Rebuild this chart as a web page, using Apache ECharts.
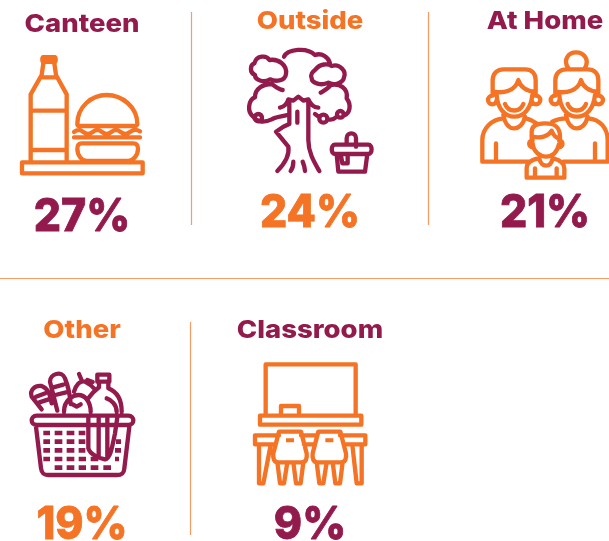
<!DOCTYPE html>
<html>
<head>
<meta charset="utf-8">
<style>
  html, body { margin: 0; padding: 0; background: #fff; }
  #main { width: 609px; height: 541px; }
</style>
<script src="https://cdn.jsdelivr.net/npm/echarts@6/dist/echarts.min.js"></script>
</head>
<body>
<div id="main"></div>
<script>
  const categories = ['Canteen', 'Outside', 'At Home', 'Other', 'Classroom']
  const shares = [27, 24, 21, 19, 9]

  const MAROON = '#931a4c'
  const ORANGE = '#f47325'
  const RULE = '#f79a63'

  // 每个格子的位置和配色
  const cells = [
    { cx: 82, titleY: 24, valueY: 217, textColor: MAROON, iconColor: ORANGE, icon: 'food', ox: 0, oy: 0 },
    { cx: 310, titleY: 21, valueY: 213, textColor: ORANGE, iconColor: MAROON, icon: 'tree', ox: 200, oy: 0 },
    { cx: 545, titleY: 21, valueY: 213, textColor: MAROON, iconColor: ORANGE, icon: 'family', ox: 420, oy: 0 },
    { cx: 82, titleY: 330, valueY: 525, textColor: ORANGE, iconColor: MAROON, icon: 'basket', ox: 0, oy: 300 },
    { cx: 310, titleY: 330, valueY: 525, textColor: MAROON, iconColor: ORANGE, icon: 'school', ox: 200, oy: 300 }
  ]

  // 图标线条，坐标是放大 3 倍后的
  const iconLines = {
    food: 'M66 487 H428 V520 H66 Z M92 483 V283 L125 225 L130 190 M200 483 V283 L168 225 L163 190 M125 232 H168 M92 332 H200 M92 450 H200 ' +
      'M232 372 C232 320 275 285 320 285 C365 285 412 320 412 372 C412 376 408 378 405 378 H238 C235 378 232 376 232 372 Z ' +
      'M222 396 C232 388 240 388 250 396 C260 404 268 404 278 396 C288 388 296 388 306 396 C316 404 324 404 334 396 C344 388 352 388 362 396 C372 404 380 404 390 396 C400 388 410 388 420 394 M222 412 H420 ' +
      'M245 430 H400 C410 430 414 436 414 446 C414 465 400 483 385 483 H260 C245 483 232 465 232 446 C232 436 236 430 245 430 Z',
    tree: 'M163 190 C170 165 200 165 208 180 C235 175 262 195 258 222 C255 245 225 245 210 238 C190 250 165 240 165 225 C148 218 150 195 163 190 Z ' +
      'M345 210 C360 190 385 190 395 198 C420 190 440 215 432 232 C430 250 400 258 385 248 C365 258 335 250 335 235 C330 225 338 215 345 210 Z ' +
      'M252 170 C262 148 320 140 345 165 C365 158 385 170 390 190 ' +
      'M248 270 C235 268 225 258 215 252 C190 252 165 265 165 292 C145 300 140 335 160 350 C170 368 195 368 215 358 C228 350 245 350 262 345 ' +
      'M362 278 C375 270 385 265 392 255 C420 250 445 265 440 295 C455 315 450 340 432 346 M408 352 C400 360 392 360 384 358 M356 350 L345 342 ' +
      'M186 353 A11 11 0 1 1 164 353 A11 11 0 1 1 186 353 Z M382 356 A12 12 0 1 1 358 356 A12 12 0 1 1 382 356 Z M431 343 A10 10 0 1 1 411 343 A10 10 0 1 1 431 343 Z ' +
      'M240 323 C255 320 262 310 265 298 L280 302 L295 290 L310 302 L325 298 C330 310 340 322 355 323 ' +
      'M268 300 V372 L250 380 L228 395 L265 440 C270 470 250 495 232 513 M325 300 V420 C325 460 345 490 358 513 M292 335 V368 ' +
      'M280 485 C280 495 278 505 272 513 M308 485 C312 495 315 505 315 513 ' +
      'M440 430 V415 C440 395 468 395 468 415 V440 M405 434 H505 C518 434 518 462 505 462 H405 C392 462 392 434 405 434 Z ' +
      'M410 462 L415 515 H495 L502 462 M422 462 L427 490 H443 V462',
    family: 'M218 285 V240 C218 218 235 208 250 208 H315 C335 208 347 220 347 240 V285 M222 275 C250 280 285 275 295 240 C300 260 320 275 345 275 ' +
      'M230 300 A13 13 0 1 1 218 287 M335 300 A13 13 0 1 0 347 287 M230 285 C232 325 255 350 283 350 C312 350 333 325 337 285 M255 312 C265 338 300 338 310 312 ' +
      'M250 345 C255 375 270 385 283 385 C295 385 310 375 315 350 M187 485 V420 C187 385 215 358 250 355 M318 355 C330 358 340 362 350 370 M187 485 H330 M228 430 V485 ' +
      'M406 285 V240 C406 218 423 208 438 208 H503 C523 208 535 220 535 240 V285 M410 275 C438 280 473 275 483 240 C488 260 508 275 533 275 ' +
      'M418 300 A13 13 0 1 1 406 287 M523 300 A13 13 0 1 0 535 287 M418 285 C420 325 443 350 471 350 C500 350 521 325 525 285 M443 312 C453 338 488 338 498 312 ' +
      'M438 345 C443 375 458 385 471 385 C483 385 498 375 503 350 M397 365 C410 358 420 355 438 355 M505 355 C540 358 563 385 563 420 V485 H430 M525 430 V485 ' +
      'M445 205 C428 180 445 157 468 157 C492 157 510 180 494 205 ' +
      'M335 415 V395 C335 378 350 370 375 370 C405 370 420 380 420 410 V425 M338 410 C360 415 385 410 395 392 C400 405 410 415 420 415 ' +
      'M338 442 A10 10 0 1 1 338 421 M417 442 A10 10 0 1 0 417 421 M338 430 C340 455 360 470 378 470 C398 470 412 455 418 430 ' +
      'M320 533 V505 C320 485 340 478 355 475 M400 475 C420 480 433 488 433 505 V533 H320 M358 475 C360 490 370 497 378 497 C388 497 395 490 398 475 M345 505 V533 M410 505 V533',
    basket: 'M110 347 H385 C405 347 405 375 385 375 H110 C90 375 90 347 110 347 Z M108 380 L123 505 C125 520 130 525 145 525 H350 C365 525 372 520 373 505 L388 380 ' +
      'M265 352 V445 C270 465 300 475 315 478 C330 475 335 450 345 400 L352 352 M296 355 V470 M322 355 V472 ' +
      'M125 328 L95 290 C88 270 105 255 125 258 C145 265 150 285 155 310 M108 290 L136 280 M118 307 L146 298 ' +
      'M172 332 L150 245 C150 222 185 210 195 235 C205 260 210 285 212 312 M160 262 L190 254 M166 285 L198 277 ' +
      'M192 335 C192 300 220 285 235 285 C255 285 272 305 272 335 M218 313 L230 320 L242 313 ' +
      'M222 275 C228 255 240 240 255 245 C265 250 278 260 285 268 M237 222 L246 243 M262 240 L278 246 ' +
      'M292 224 H328 V245 H292 Z M297 245 V262 C280 275 272 285 265 295 M325 245 V265 C350 275 365 300 365 335 M320 295 C335 300 350 315 350 335',
    school: 'M197 345 V193 H467 V345 M243 342 V318 H297 V342 M180 347 H484 V374 H180 Z M165 406 H237 M303 406 H352 M420 406 H496 V433 H433 M165 406 V433 H225 M312 433 H345 ' +
      'M177 435 V550 H190 L212 435 M485 435 V550 H470 L457 435 ' +
      'M237 395 H303 L320 460 C322 475 318 487 305 487 H235 C222 487 218 475 220 460 Z M232 487 L240 550 H252 L262 487 M280 487 L288 550 H302 L310 487 ' +
      'M355 395 H421 L438 460 C440 475 436 487 423 487 H353 C340 487 336 475 338 460 Z M350 487 L358 550 H370 L380 487 M398 487 L406 550 H420 L428 487'
  }

  // 实心部分
  const iconFills = {
    food: 'M128 165 H166 C176 165 176 192 166 192 H128 C118 192 118 165 128 165 Z',
    tree: '',
    family: '',
    basket: 'M130 392 h20 v14 h-20 Z M164 392 h23 v14 h-23 Z M200 392 h23 v14 h-23 Z M236 392 h20 v14 h-20 Z ' +
      'M130 418 h20 v14 h-20 Z M164 418 h23 v14 h-23 Z M200 418 h23 v14 h-23 Z M236 418 h20 v14 h-20 Z M348 418 h15 v14 h-15 Z ' +
      'M130 444 h20 v14 h-20 Z M164 444 h23 v14 h-23 Z M200 444 h23 v14 h-23 Z M236 444 h20 v14 h-20 Z M345 444 h18 v14 h-18 Z ' +
      'M130 470 h20 v14 h-20 Z M164 470 h23 v14 h-23 Z M200 470 h23 v14 h-23 Z M236 470 h22 v14 h-22 Z M272 470 h23 v14 h-23 Z M345 470 h12 v14 h-12 Z ' +
      'M164 496 h23 v14 h-23 Z M200 496 h23 v14 h-23 Z M236 496 h22 v14 h-22 Z M272 496 h23 v14 h-23 Z M310 496 h23 v14 h-23 Z',
    school: 'M258 415 h24 v12 h-24 Z M376 415 h24 v12 h-24 Z'
  }

  function renderCell (params, api) {
    const cell = cells[params.dataIndex]
    const children = [
      {
        type: 'text',
        x: cell.cx,
        y: cell.titleY,
        scaleX: 1.1,
        style: {
          text: categories[params.dataIndex],
          align: 'center',
          verticalAlign: 'middle',
          fontFamily: 'Inter',
          fontWeight: 800,
          fontSize: 25,
          fill: cell.textColor
        }
      },
      {
        type: 'text',
        x: cell.cx,
        y: cell.valueY,
        scaleX: 0.95,
        style: {
          text: api.value(0) + '%',
          align: 'center',
          verticalAlign: 'middle',
          fontFamily: 'Inter',
          fontWeight: 800,
          fontSize: 45,
          fill: cell.textColor,
          stroke: cell.textColor,
          lineWidth: 0.8
        }
      },
      {
        type: 'path',
        x: cell.ox,
        y: cell.oy,
        scaleX: 1 / 3,
        scaleY: 1 / 3,
        shape: { pathData: iconLines[cell.icon] },
        style: { fill: 'none', stroke: cell.iconColor, lineWidth: 13, lineJoin: 'round', lineCap: 'round' }
      }
    ]
    if (iconFills[cell.icon]) {
      children.push({
        type: 'path',
        x: cell.ox,
        y: cell.oy,
        scaleX: 1 / 3,
        scaleY: 1 / 3,
        shape: { pathData: iconFills[cell.icon] },
        style: { fill: cell.iconColor }
      })
    }
    return { type: 'group', children: children }
  }

  function rule (x1, y1, x2, y2) {
    return {
      type: 'line',
      shape: { x1: x1, y1: y1, x2: x2, y2: y2 },
      style: { stroke: RULE, lineWidth: 1.2 }
    }
  }

  const myChart = echarts.init(document.getElementById('main'))
  const option = {
    animation: false,
    backgroundColor: '#fff',
    graphic: {
      elements: [
        rule(191.5, 12, 191.5, 225),
        rule(428.5, 12, 428.5, 225),
        rule(190.5, 322, 190.5, 535),
        rule(0, 278.5, 609, 278.5)
      ]
    },
    series: [
      {
        type: 'custom',
        coordinateSystem: 'none',
        renderItem: renderCell,
        data: shares.map(v => [v])
      }
    ]
  }
  myChart.setOption(option)
</script>
</body>
</html>
